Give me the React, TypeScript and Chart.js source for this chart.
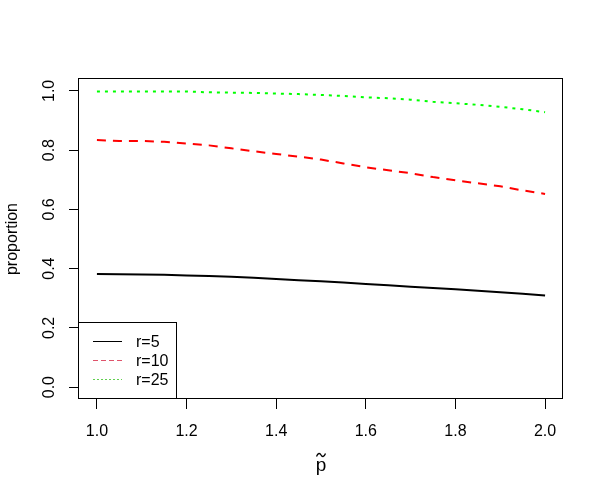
import React, { useEffect, useRef } from "react";
import { Chart, registerables } from "chart.js";

Chart.register(...registerables);

const P_VALUES = [1.0, 1.05, 1.1, 1.15, 1.2, 1.25, 1.3, 1.35, 1.4, 1.45, 1.5, 1.55, 1.6, 1.65, 1.7, 1.75, 1.8, 1.85, 1.9, 1.95, 2.0];
const R5 = [0.382, 0.381, 0.380, 0.379, 0.377, 0.375, 0.373, 0.369, 0.365, 0.361, 0.357, 0.353, 0.348, 0.344, 0.339, 0.335, 0.330, 0.325, 0.320, 0.315, 0.309];
const R10 = [0.834, 0.831, 0.831, 0.828, 0.822, 0.816, 0.806, 0.796, 0.787, 0.778, 0.768, 0.755, 0.742, 0.732, 0.722, 0.709, 0.698, 0.688, 0.678, 0.664, 0.652];
const R25 = [0.998, 0.998, 0.998, 0.998, 0.998, 0.995, 0.994, 0.993, 0.991, 0.989, 0.986, 0.983, 0.978, 0.975, 0.970, 0.963, 0.958, 0.953, 0.946, 0.938, 0.928];

const X_TICKS = [1.0, 1.2, 1.4, 1.6, 1.8, 2.0];
const X_LABELS = ["1.0", "1.2", "1.4", "1.6", "1.8", "2.0"];
const Y_TICKS = [0.0, 0.2, 0.4, 0.6, 0.8, 1.0];
const Y_LABELS = ["0.0", "0.2", "0.4", "0.6", "0.8", "1.0"];
const LEGEND_LABELS = ["r=5", "r=10", "r=25"];
const Y_TITLE = "proportion";
const X_TITLE = "p";

const FONT = '"Liberation Sans", Arial, sans-serif';

const rPlotPlugin = {
  id: "rPlot",
  afterDraw(chart: any) {
    const ctx = chart.ctx as CanvasRenderingContext2D;
    const { left, right, top, bottom } = chart.chartArea;
    const xs = chart.scales.x;
    const ys = chart.scales.y;
    ctx.save();
    ctx.strokeStyle = "#000";
    ctx.lineWidth = 1;
    ctx.setLineDash([]);
    ctx.strokeRect(Math.round(left) - 0.5, Math.round(top) - 0.5, Math.round(right - left), Math.round(bottom - top));

    ctx.fillStyle = "#000";
    ctx.font = `16px ${FONT}`;
    ctx.textAlign = "center";
    ctx.textBaseline = "middle";
    X_TICKS.forEach((v, i) => {
      ctx.fillText(X_LABELS[i], xs.getPixelForValue(v), 432);
    });
    Y_TICKS.forEach((v, i) => {
      ctx.save();
      ctx.translate(50, ys.getPixelForValue(v));
      ctx.rotate(-Math.PI / 2);
      ctx.fillText(Y_LABELS[i], 0, 0);
      ctx.restore();
    });
    ctx.save();
    ctx.translate(13, (top + bottom) / 2);
    ctx.rotate(-Math.PI / 2);
    ctx.fillText(Y_TITLE, 0, 0);
    ctx.restore();

    const cx = (left + right) / 2;
    ctx.font = `19px ${FONT}`;
    ctx.textBaseline = "alphabetic";
    ctx.fillText(X_TITLE, cx, 471);
    // tilde accent above p
    ctx.beginPath();
    ctx.lineWidth = 1.3;
    ctx.strokeStyle = "#000";
    ctx.moveTo(cx - 4.5, 456.5);
    ctx.bezierCurveTo(cx - 3, 452.5, cx - 1, 453, cx, 455);
    ctx.bezierCurveTo(cx + 1, 457, cx + 3, 457.5, cx + 4.5, 453.5);
    ctx.stroke();
    ctx.lineWidth = 1;

    // legend
    const lx = Math.round(left) - 0.5;
    const ly = 322.5;
    const lw = 98;
    const lh = Math.round(bottom) - 0.5 - ly;
    ctx.fillStyle = "#fff";
    ctx.fillRect(lx, ly, lw, lh);
    ctx.strokeStyle = "#000";
    ctx.strokeRect(lx, ly, lw, lh);
    const styles = [
      { color: "#000000", dash: [] as number[] },
      { color: "#DF536B", dash: [5, 3] },
      { color: "#61D04F", dash: [2, 2] },
    ];
    LEGEND_LABELS.forEach((lab, i) => {
      const y = 341.5 + i * 19;
      ctx.beginPath();
      ctx.strokeStyle = styles[i].color;
      ctx.setLineDash(styles[i].dash);
      ctx.moveTo(93, y);
      ctx.lineTo(122, y);
      ctx.stroke();
      ctx.setLineDash([]);
      ctx.fillStyle = "#000";
      ctx.textAlign = "left";
      ctx.textBaseline = "middle";
      ctx.font = `16px ${FONT}`;
      ctx.fillText(lab, 136, y + 1);
    });
    ctx.restore();
  },
};

export default function App() {
  const ref = useRef<HTMLCanvasElement | null>(null);
  useEffect(() => {
    document.body.style.margin = "0";
    const canvas = ref.current;
    if (!canvas) return;
    const mk = (arr: number[]) => P_VALUES.map((p, i) => ({ x: p, y: arr[i] }));
    const chart = new Chart(canvas, {
      type: "line",
      data: {
        datasets: [
          { label: LEGEND_LABELS[0], data: mk(R5), borderColor: "#000000", borderWidth: 2, pointRadius: 0, tension: 0, fill: false, borderCapStyle: "butt" },
          { label: LEGEND_LABELS[1], data: mk(R10), borderColor: "#FF0000", borderWidth: 2, borderDash: [9, 7], pointRadius: 0, tension: 0, fill: false, borderCapStyle: "butt" },
          { label: LEGEND_LABELS[2], data: mk(R25), borderColor: "#00FF00", borderWidth: 2, borderDash: [3, 5], pointRadius: 0, tension: 0, fill: false, borderCapStyle: "butt" },
        ],
      },
      options: {
        responsive: false,
        animation: false,
        devicePixelRatio: 1,
        layout: { padding: { top: 79, right: 41, left: 0, bottom: 0 } },
        plugins: { legend: { display: false }, tooltip: { enabled: false } },
        scales: {
          x: {
            type: "linear",
            min: 0.96,
            max: 2.04,
            afterBuildTicks: (s: any) => { s.ticks = X_TICKS.map((v) => ({ value: v })); },
            afterFit: (s: any) => { s.height = 98; },
            ticks: { display: false },
            grid: { drawOnChartArea: false, drawTicks: true, tickLength: 10, color: "#000", lineWidth: 1 },
            border: { display: false },
          },
          y: {
            type: "linear",
            min: -0.04,
            max: 1.04,
            afterBuildTicks: (s: any) => { s.ticks = Y_TICKS.map((v) => ({ value: v })); },
            afterFit: (s: any) => { s.width = 79; },
            ticks: { display: false },
            grid: { drawOnChartArea: false, drawTicks: true, tickLength: 10, color: "#000", lineWidth: 1 },
            border: { display: false },
          },
        },
      },
      plugins: [rPlotPlugin],
    } as any);
    return () => chart.destroy();
  }, []);
  return <canvas ref={ref} width={604} height={497} style={{ display: "block" }} />;
}
